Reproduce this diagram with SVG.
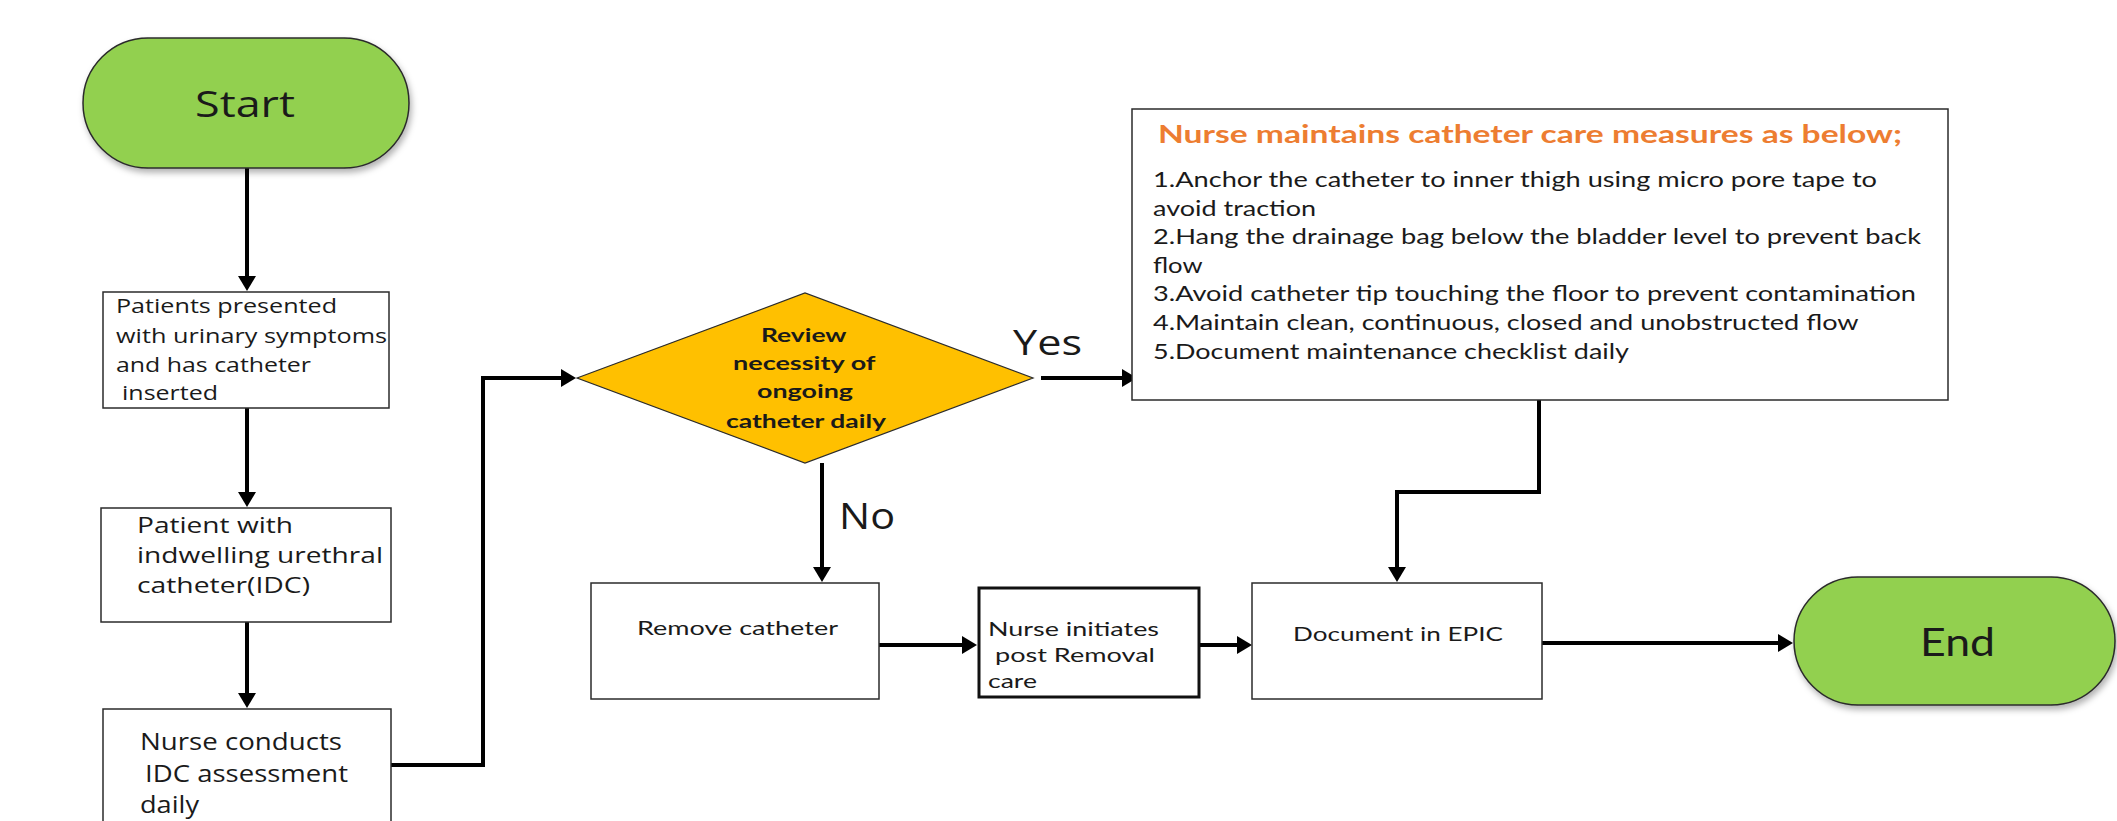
<svg xmlns="http://www.w3.org/2000/svg" width="2117" height="821" viewBox="0 0 2117 821">
<style>
.term{fill:#92D050;stroke:#2b2b2b;stroke-width:1.5;filter:url(#sh)}
.box{fill:#fff;stroke:#2b2b2b;stroke-width:1.5}
.box2{fill:#fff;stroke:#111;stroke-width:3}
.dia{fill:#FFC000;stroke:#2b2b2b;stroke-width:1.2}
.os{font-family:"Open Sans","Noto Sans",sans-serif;fill:#1a1a1a}
.lt{font-family:Lato,"Open Sans",sans-serif;fill:#1a1a1a}
.ltb{font-family:Lato,"Open Sans",sans-serif;font-weight:bold;fill:#1a1a1a}
.ttl{font-family:Lato,"Open Sans",sans-serif;font-weight:bold;fill:#ED7D31}
.con{fill:none;stroke:#000;stroke-width:4}
</style>
<defs>
<filter id="sh" x="-10%" y="-10%" width="130%" height="140%">
<feDropShadow dx="2" dy="4" stdDeviation="3" flood-color="#000" flood-opacity="0.3"/>
</filter>
<marker id="ar" markerUnits="userSpaceOnUse" viewBox="0 0 15 18" refX="1" refY="9" markerWidth="15" markerHeight="18" orient="auto">
<path d="M0,0 L15,9 L0,18 z" fill="#000"/>
</marker>
</defs>
<rect width="2117" height="821" fill="#fff"/>

<g id="connectors">
<path class="con" d="M247,168 V277" marker-end="url(#ar)"/>
<path class="con" d="M247,408 V493" marker-end="url(#ar)"/>
<path class="con" d="M247,622 V694" marker-end="url(#ar)"/>
<path class="con" d="M391,765 H483 V378 H562" marker-end="url(#ar)"/>
<path class="con" d="M1041,378 H1123" marker-end="url(#ar)"/>
<path class="con" d="M822,463 V568" marker-end="url(#ar)"/>
<path class="con" d="M879,645 H963" marker-end="url(#ar)"/>
<path class="con" d="M1199,645 H1238" marker-end="url(#ar)"/>
<path class="con" d="M1539,400 V492 H1397 V568" marker-end="url(#ar)"/>
<path class="con" d="M1542,643 H1779" marker-end="url(#ar)"/>
<text class="os" x="1013" y="355" font-size="35" textLength="69" lengthAdjust="spacingAndGlyphs">Yes</text>
<text class="os" x="839" y="529" font-size="36" textLength="56" lengthAdjust="spacingAndGlyphs">No</text>
</g>

<g id="start">
<rect class="term" x="83" y="38" width="326" height="130" rx="65"/>
<text class="os" x="195" y="117" font-size="36" textLength="100" lengthAdjust="spacingAndGlyphs">Start</text>
</g>

<g id="patients">
<rect class="box" x="103" y="292" width="286" height="116"/>
<text class="os" font-size="20">
<tspan x="116" y="313" textLength="221" lengthAdjust="spacingAndGlyphs">Patients presented</tspan>
<tspan x="116" y="343" textLength="271" lengthAdjust="spacingAndGlyphs">with urinary symptoms</tspan>
<tspan x="116" y="372" textLength="195" lengthAdjust="spacingAndGlyphs">and has catheter</tspan>
<tspan x="122" y="400" textLength="96" lengthAdjust="spacingAndGlyphs">inserted</tspan>
</text>
</g>

<g id="idc">
<rect class="box" x="101" y="508" width="290" height="114"/>
<text class="os" font-size="22">
<tspan x="137" y="533" textLength="156" lengthAdjust="spacingAndGlyphs">Patient with</tspan>
<tspan x="137" y="563" textLength="246" lengthAdjust="spacingAndGlyphs">indwelling urethral</tspan>
<tspan x="137" y="593" textLength="173" lengthAdjust="spacingAndGlyphs">catheter(IDC)</tspan>
</text>
</g>

<g id="assess">
<rect class="box" x="103" y="709" width="288" height="130"/>
<text class="os" font-size="23">
<tspan x="140" y="750" textLength="202" lengthAdjust="spacingAndGlyphs">Nurse conducts</tspan>
<tspan x="145" y="782" textLength="203" lengthAdjust="spacingAndGlyphs">IDC assessment</tspan>
<tspan x="140" y="813" textLength="59" lengthAdjust="spacingAndGlyphs">daily</tspan>
</text>
</g>

<g id="review">
<polygon class="dia" points="577,378 805,293 1033,378 805,463"/>
<text class="ltb" font-size="19">
<tspan x="761" y="342" textLength="85" lengthAdjust="spacingAndGlyphs">Review</tspan>
<tspan x="733" y="370" textLength="142" lengthAdjust="spacingAndGlyphs">necessity of</tspan>
<tspan x="757" y="398" textLength="96" lengthAdjust="spacingAndGlyphs">ongoing</tspan>
<tspan x="726" y="428" textLength="160" lengthAdjust="spacingAndGlyphs">catheter daily</tspan>
</text>
</g>

<g id="care">
<rect class="box" x="1132" y="109" width="816" height="291"/>
<text class="ttl" x="1158" y="143" font-size="24" textLength="744" lengthAdjust="spacingAndGlyphs">Nurse maintains catheter care measures as below;</text>
<text class="lt" font-size="21">
<tspan x="1153" y="187" textLength="724" lengthAdjust="spacingAndGlyphs">1.Anchor the catheter to inner thigh using micro pore tape to</tspan>
<tspan x="1153" y="216" textLength="163" lengthAdjust="spacingAndGlyphs">avoid traction</tspan>
<tspan x="1153" y="244" textLength="768" lengthAdjust="spacingAndGlyphs">2.Hang the drainage bag below the bladder level to prevent back</tspan>
<tspan x="1153" y="273" textLength="49" lengthAdjust="spacingAndGlyphs">flow</tspan>
<tspan x="1153" y="301" textLength="763" lengthAdjust="spacingAndGlyphs">3.Avoid catheter tip touching the floor to prevent contamination</tspan>
<tspan x="1153" y="330" textLength="705" lengthAdjust="spacingAndGlyphs">4.Maintain clean, continuous, closed and unobstructed flow</tspan>
<tspan x="1153" y="359" textLength="476" lengthAdjust="spacingAndGlyphs">5.Document maintenance checklist daily</tspan>
</text>
</g>

<g id="remove">
<rect class="box" x="591" y="583" width="288" height="116"/>
<text class="lt" x="637" y="635" font-size="19" textLength="201" lengthAdjust="spacingAndGlyphs">Remove catheter</text>
</g>

<g id="postcare">
<rect class="box2" x="979" y="588" width="220" height="109"/>
<text class="lt" font-size="20">
<tspan x="988" y="636" textLength="171" lengthAdjust="spacingAndGlyphs">Nurse initiates</tspan>
<tspan x="995" y="662" textLength="160" lengthAdjust="spacingAndGlyphs">post Removal</tspan>
<tspan x="988" y="688" textLength="49" lengthAdjust="spacingAndGlyphs">care</tspan>
</text>
</g>

<g id="document">
<rect class="box" x="1252" y="583" width="290" height="116"/>
<text class="lt" x="1293" y="641" font-size="19" textLength="210" lengthAdjust="spacingAndGlyphs">Document in EPIC</text>
</g>

<g id="end">
<rect class="term" x="1794" y="577" width="321" height="128" rx="64"/>
<text class="lt" x="1920" y="656" font-size="39" textLength="75" lengthAdjust="spacingAndGlyphs">End</text>
</g>
</svg>
